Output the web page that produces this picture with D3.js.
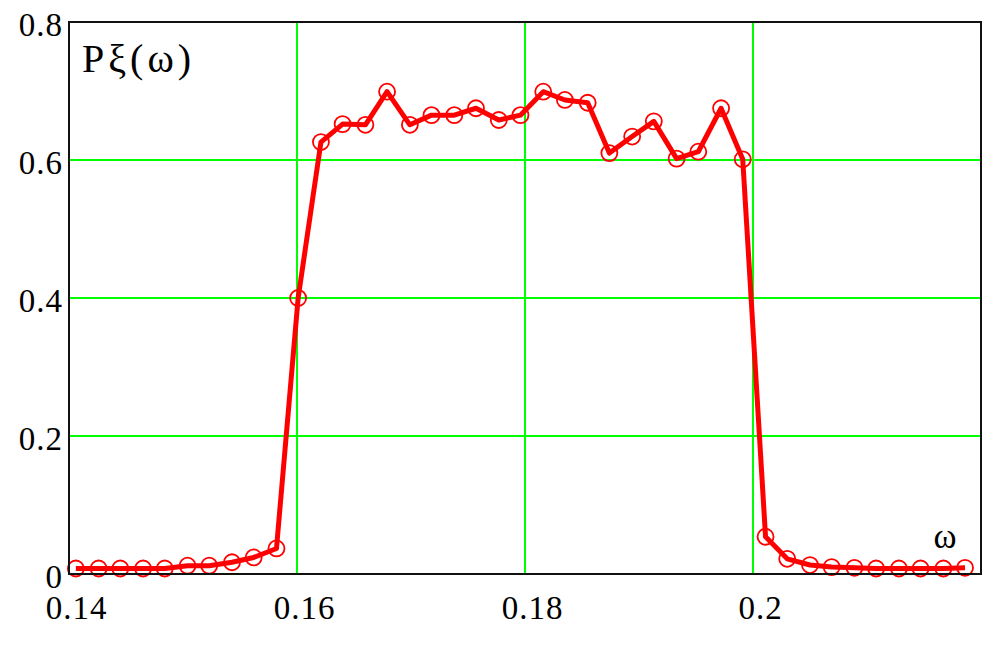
<!DOCTYPE html>
<html>
<head>
<meta charset="utf-8">
<script src="https://cdn.jsdelivr.net/npm/d3@7"></script>
<style>
  body { margin: 0; background: #fff; }
  text { font-family: 'Liberation Serif', 'Times New Roman', serif; fill: #000; }
</style>
</head>
<body>
<svg id="mainsvg" width="1008" height="651"></svg>
<script>
// frequency samples and spectral density
const omega = [0.1406, 0.1426, 0.1445, 0.1465, 0.1484, 0.1504, 0.1523, 0.1543, 0.1562, 0.1582,
    0.1601, 0.1621, 0.1640, 0.1660, 0.1679, 0.1699, 0.1718, 0.1738, 0.1757, 0.1777,
    0.1796, 0.1816, 0.1835, 0.1855, 0.1874, 0.1894, 0.1913, 0.1933, 0.1952, 0.1972,
    0.1991, 0.2011, 0.2030, 0.2050, 0.2069, 0.2089, 0.2108, 0.2128, 0.2147, 0.2167, 0.2186];
const pxi = [0.008, 0.008, 0.008, 0.008, 0.008, 0.012, 0.012, 0.017, 0.024, 0.037,
    0.400, 0.626, 0.652, 0.651, 0.699, 0.651, 0.665, 0.665, 0.675, 0.658,
    0.665, 0.699, 0.687, 0.683, 0.610, 0.634, 0.656, 0.602, 0.612, 0.675,
    0.601, 0.054, 0.022, 0.013, 0.010, 0.009, 0.008, 0.008, 0.008, 0.008, 0.009];
const xTicks = [0.14, 0.16, 0.18, 0.2];
const yTicks = [0, 0.2, 0.4, 0.6, 0.8];
const xGrid = [0.16, 0.18, 0.2];
const yGrid = [0.2, 0.4, 0.6];
const yLabel = 'Pξ(ω)';
const xLabel = 'ω';

const svg = d3.select('#mainsvg');
const width = +svg.attr('width');
const height = +svg.attr('height');
const margin = { top: 22, right: 27, bottom: 77, left: 69 };
const innerWidth = width - margin.left - margin.right;
const innerHeight = height - margin.top - margin.bottom;
const g = svg.append('g').attr('transform', `translate(${margin.left}, ${margin.top})`);

const xScale = d3.scaleLinear().domain([0.14, 0.22]).range([0, innerWidth]);
const yScale = d3.scaleLinear().domain([0, 0.8]).range([innerHeight, 0]);

// grid lines
g.selectAll('.vgrid').data(xGrid).join('line')
    .attr('x1', d => xScale(d)).attr('x2', d => xScale(d))
    .attr('y1', 0).attr('y2', innerHeight)
    .attr('stroke', '#00ff00').attr('stroke-width', 2);
g.selectAll('.hgrid').data(yGrid).join('line')
    .attr('y1', d => yScale(d)).attr('y2', d => yScale(d))
    .attr('x1', 0).attr('x2', innerWidth)
    .attr('stroke', '#00ff00').attr('stroke-width', 2);

// axes (labels only, frame drawn separately)
const xAxis = d3.axisBottom(xScale).tickValues(xTicks).tickSize(0).tickPadding(22)
    .tickFormat(d => String(+d.toFixed(2)));
const xAxisGroup = g.append('g').attr('transform', `translate(0, ${innerHeight})`).call(xAxis);
xAxisGroup.select('.domain').remove();
xAxisGroup.selectAll('text').attr('dx', 7);

const yAxis = d3.axisLeft(yScale).tickValues(yTicks).tickSize(0).tickPadding(6)
    .tickFormat(d => String(+d.toFixed(1)));
const yAxisGroup = g.append('g').call(yAxis);
yAxisGroup.select('.domain').remove();
yAxisGroup.selectAll('text').attr('dy', '0.4em');

g.selectAll('.tick text')
    .attr('font-size', '33px')
    .attr('letter-spacing', '1px')
    .attr('fill', '#111')
    .style('font-family', "'Liberation Serif', 'Times New Roman', serif");

// curve
const line = d3.line()
    .x((d, i) => xScale(omega[i]))
    .y(d => yScale(d));
g.append('path').datum(pxi)
    .attr('fill', 'none')
    .attr('stroke', '#ff0000')
    .attr('stroke-width', 5)
    .attr('stroke-linejoin', 'round')
    .attr('d', line);

g.selectAll('.pt').data(pxi).join('circle')
    .attr('cx', (d, i) => xScale(omega[i]))
    .attr('cy', d => yScale(d))
    .attr('r', 8)
    .attr('fill', 'none')
    .attr('stroke', '#ff0000')
    .attr('stroke-width', 1.8);

// frame
g.append('rect')
    .attr('x', 0).attr('y', 0)
    .attr('width', innerWidth).attr('height', innerHeight)
    .attr('fill', 'none')
    .attr('stroke', '#111')
    .attr('stroke-width', 2);

// labels inside plot
g.append('text')
    .attr('x', 13).attr('y', 50)
    .attr('font-size', '40px')
    .attr('letter-spacing', '4px')
    .text(yLabel);
g.append('text')
    .attr('x', 876).attr('y', 526)
    .attr('text-anchor', 'middle')
    .attr('font-size', '35px')
    .text(xLabel);
</script>
</body>
</html>
